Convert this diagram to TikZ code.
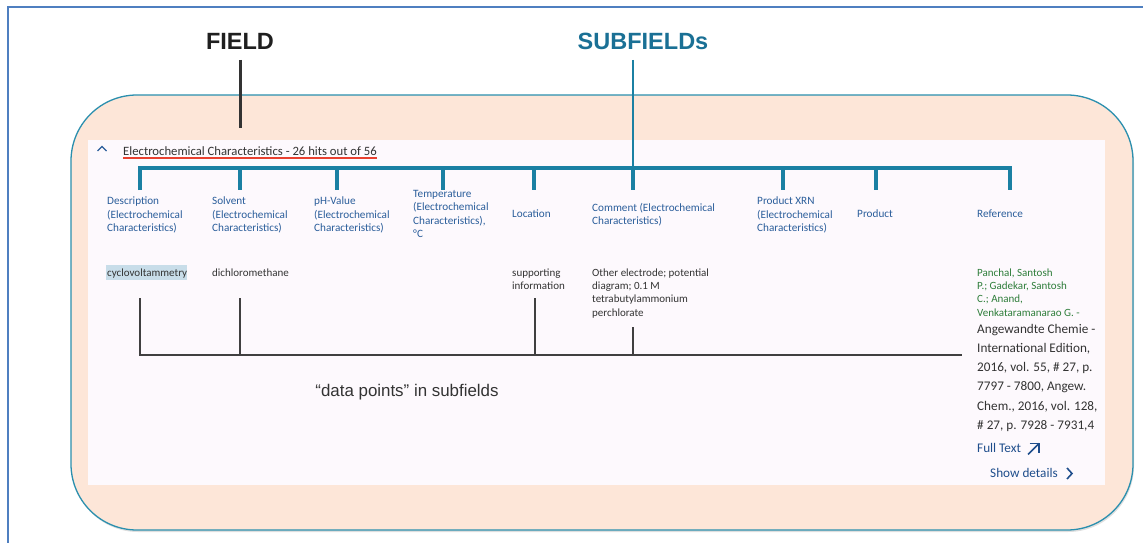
\documentclass[tikz,border=0pt]{standalone}
\usepackage{fontspec}
\setmainfont{Liberation Sans}
\newfontfamily\carl{Carlito}
\usetikzlibrary{shadows}
\definecolor{framebl}{HTML}{4F7FC0}
\definecolor{peach}{HTML}{FDE6D8}
\definecolor{peachbd}{HTML}{2A8FAE}
\definecolor{panel}{HTML}{FDF9FD}
\definecolor{tealbr}{HTML}{1B80A3}
\definecolor{subf}{HTML}{1A7095}
\definecolor{hdrblue}{HTML}{2B5E9B}
\definecolor{datagray}{HTML}{333333}
\definecolor{refgreen}{HTML}{2E7D3A}
\definecolor{linkblue}{HTML}{1F4E8C}
\definecolor{hilite}{HTML}{C8DDE9}
\definecolor{redul}{HTML}{E8402F}
\tikzset{
  colhead/.style={anchor=north west, inner sep=0pt, align=left, text=hdrblue,
    font=\carl\fontsize{11.2}{13.5}\selectfont},
  datatext/.style={anchor=north west, inner sep=0pt, align=left, text=datagray,
    font=\carl\fontsize{11}{13.3}\selectfont},
  reftext/.style={anchor=north west, inner sep=0pt, align=left, text=datagray,
    font=\carl\fontsize{13.2}{19.2}\selectfont},
  bigtitle/.style={inner sep=0pt, font=\bfseries\fontsize{23.5}{26}\selectfont},
  bracket/.style={draw=tealbr, line width=3.5pt},
  dataline/.style={draw=black!75, line width=1.3pt},
}
\begin{document}
\begin{tikzpicture}[x=1pt,y=-1pt]
\useasboundingbox (0,0) rectangle (1143,543);
% outer frame
\draw[framebl, line width=2pt] (8,543) -- (8,7) -- (1143,7);
% peach box
\filldraw[fill=peach, draw=peachbd, line width=1.3pt, rounded corners=66pt,
  drop shadow={opacity=0.25, shadow xshift=1pt, shadow yshift=-2pt}]
  (71,95) rectangle (1133,530);
% inner panel
\fill[panel] (88,140) rectangle (1105,485);

% titles
\node[bigtitle, text=black!88] (field) at (240,41) {FIELD};
\node[bigtitle, text=subf] (subfields) at (643,41) {SUBFIELDs};
\coordinate (fieldtop) at (240,60);
\coordinate (fieldend) at (240,128);
\draw[black!80, line width=3pt] (fieldtop) -- (fieldend);

% header
\draw[hdrblue, line width=1.2pt] (97.5,151) -- (102,146.5) -- (106.5,151);
\node[anchor=north west, inner sep=0pt, text=datagray, font=\carl\fontsize{12.7}{14}\selectfont]
  (hdr) at (123,146.5) {Electrochemical Characteristics - 26 hits out of 56};
\draw[redul, line width=1.5pt] ([yshift=-2pt]hdr.south west) -- ([yshift=-2pt]hdr.south east);

% bracket
\coordinate (subtop) at (633,60);
\coordinate (b1) at (140,168);
\coordinate (b9) at (1010,168);
\coordinate (bm) at (633,168);
\draw[tealbr, line width=2.5pt] (subtop) -- (bm);
\draw[bracket] (140,190) -- (b1) -- (b9) -- (1010,190);
\foreach \x in {240,337,443,534,633,783,876}
  \draw[bracket] (\x,168) -- (\x,190);

% column headers
\node[colhead] (h1) at (107,197) {Description\\(Electrochemical\\Characteristics)};
\node[colhead] (h2) at (212,197) {Solvent\\(Electrochemical\\Characteristics)};
\node[colhead] (h3) at (314,197) {pH-Value\\(Electrochemical\\Characteristics)};
\node[colhead] (h4) at (413,190) {Temperature\\(Electrochemical\\Characteristics),\\°C};
\node[colhead] (h5) at (512,210) {Location};
\node[colhead] (h6) at (592,203) {Comment (Electrochemical\\Characteristics)};
\node[colhead] (h7) at (757,197) {Product XRN\\(Electrochemical\\Characteristics)};
\node[colhead] (h8) at (857,210) {Product};
\node[colhead] (h9) at (977,210) {Reference};

% data
\fill[hilite] (106,265) rectangle (186.5,280);
\node[datatext] (d1) at (107,268.5) {cyclovoltammetry};
\node[datatext] (d2) at (212,268.5) {dichloromethane};
\node[datatext] (d5) at (512,268.5) {supporting\\information};
\node[datatext] (d6) at (592,268.5) {Other electrode; potential\\diagram; 0.1 M\\tetrabutylammonium\\perchlorate};
\node[datatext, text=refgreen] (d9a) at (977,268.5) {Panchal, Santosh\\P.; Gadekar, Santosh\\C.; Anand,\\Venkataramanarao G. -};
\node[reftext] (d9b) at (977,324) {Angewandte Chemie -\\International Edition,\\2016, vol. 55, \# 27, p.\\7797 - 7800, Angew.\\Chem., 2016, vol. 128,\\\# 27, p. 7928 - 7931,4};
\node[reftext, text=linkblue] (full) at (977,443) {Full Text};
\draw[linkblue, line width=1.6pt] (1028,454.5) -- (1039,443.5);
\draw[linkblue, line width=1.6pt] (1029.5,443.5) -- (1039,443.5) -- (1039,453);
\node[reftext, text=linkblue] (show) at (990,468) {Show details};
\draw[linkblue, line width=1.6pt] (1067,468) -- (1072,473.5) -- (1067,479);

% data point lines
\coordinate (p1) at (140,298);
\coordinate (p2) at (240,298);
\coordinate (p5) at (535,298);
\coordinate (p6) at (633,327);
\coordinate (q1) at (140,355);
\coordinate (q2) at (240,355);
\coordinate (q5) at (535,355);
\coordinate (q6) at (633,355);
\coordinate (qe) at (962,355);
\draw[dataline] (p1) -- (q1) -- (qe);
\draw[dataline] (p2) -- (q2);
\draw[dataline] (p5) -- (q5);
\draw[dataline] (p6) -- (q6);

\node[inner sep=0pt, text=black!80, font=\fontsize{16.9}{19}\selectfont] (dp) at (407,392) {“data points” in subfields};
\end{tikzpicture}
\end{document}
